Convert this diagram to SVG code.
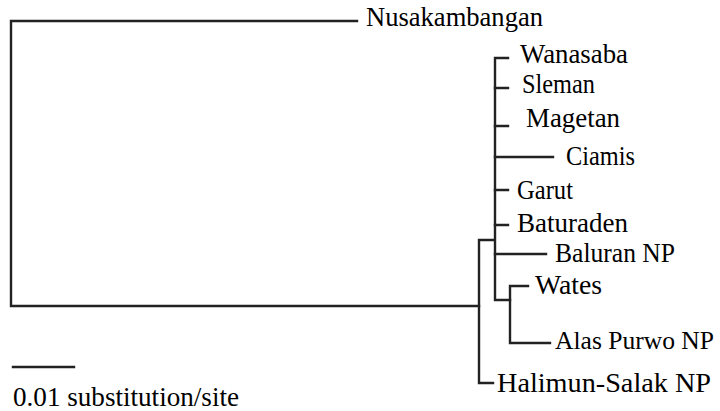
<svg xmlns="http://www.w3.org/2000/svg" width="720" height="411" viewBox="0 0 720 411">
<style>
.b{fill:none;stroke:#222;stroke-width:2.4;stroke-linecap:square}
text{font-family:"Liberation Serif","Times New Roman",serif;font-size:28px;fill:#000}
</style>
<rect width="720" height="411" fill="#fff"/>
<g id="connectors">
<path class="b" d="M357,21 H11 V306 H479"/>
<path class="b" d="M493,240 H479 V383 H493"/>
<path class="b" d="M508,58 H495 V300 H510"/>
<path class="b" d="M495,88 H508 M495,126 H508 M495,157 H553 M495,190 H508 M495,225 H508 M495,254 H546"/>
<path class="b" d="M528,286 H510 V343 H550"/>
<path class="b" d="M13,367 H74"/>
</g>
<g id="n-nusakambangan"><text x="366" y="26" textLength="177" lengthAdjust="spacingAndGlyphs">Nusakambangan</text></g>
<g id="n-wanasaba"><text x="520" y="63" textLength="108" lengthAdjust="spacingAndGlyphs">Wanasaba</text></g>
<g id="n-sleman"><text x="522" y="93" textLength="73" lengthAdjust="spacingAndGlyphs">Sleman</text></g>
<g id="n-magetan"><text x="526" y="127" textLength="94" lengthAdjust="spacingAndGlyphs">Magetan</text></g>
<g id="n-ciamis"><text x="566" y="165" textLength="69" lengthAdjust="spacingAndGlyphs">Ciamis</text></g>
<g id="n-garut"><text x="517" y="199" textLength="56" lengthAdjust="spacingAndGlyphs">Garut</text></g>
<g id="n-baturaden"><text x="517" y="232" textLength="111" lengthAdjust="spacingAndGlyphs">Baturaden</text></g>
<g id="n-baluran"><text x="555" y="262" textLength="120" lengthAdjust="spacingAndGlyphs">Baluran NP</text></g>
<g id="n-wates"><text x="535" y="294" textLength="67" lengthAdjust="spacingAndGlyphs">Wates</text></g>
<g id="n-alaspurwo"><text x="555" y="349" style="font-size:25.5px" textLength="159" lengthAdjust="spacingAndGlyphs">Alas Purwo NP</text></g>
<g id="n-halimun"><text x="497" y="392" textLength="214" lengthAdjust="spacingAndGlyphs">Halimun-Salak NP</text></g>
<g id="scale"><text x="13" y="406" textLength="226" lengthAdjust="spacingAndGlyphs">0.01 substitution/site</text></g>
</svg>
